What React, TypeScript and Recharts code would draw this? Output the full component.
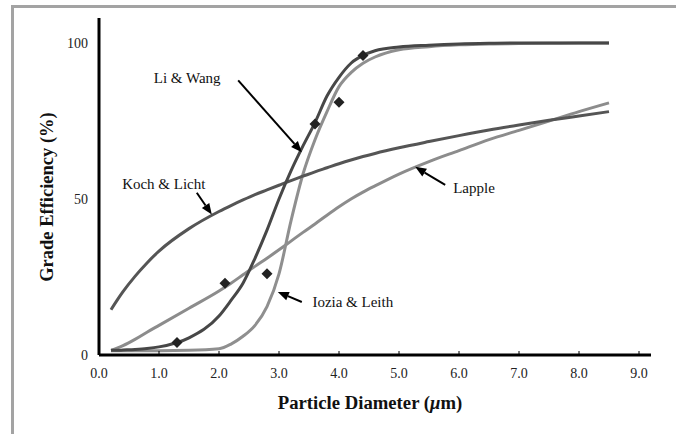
import React from "react";
import { ComposedChart, Line, Scatter, XAxis, YAxis, ReferenceLine, ReferenceDot } from "recharts";

// particle diameter (µm) shared by the four model curves
const diameters = [0.2, 0.3, 0.4, 0.6, 0.8, 1.0, 1.5, 2.0, 2.2, 2.4, 2.6, 2.8, 3.0, 3.2, 3.4, 3.6, 3.8, 4.0, 4.2, 4.4, 4.6, 5.0, 5.5, 6.0, 6.5, 7.0, 7.5, 8.0, 8.5];

const liWang = [1.5, 1.5, 1.6, 1.8, 2.1, 2.6, 5.5, 12.5, 17.5, 23, 31, 40, 50, 59, 67, 74.5, 83, 89, 93.5, 96, 97.5, 98.7, 99.3, 99.7, 99.9, 100, 100, 100, 100];
const ioziaLeith = [1.4, 1.4, 1.4, 1.4, 1.4, 1.4, 1.5, 2, 3.5, 6, 9.5, 15.5, 26, 43, 58, 69, 78, 86, 90.5, 93.5, 95.5, 97.8, 98.8, 99.4, 99.7, 99.8, 99.9, 100, 100];
const kochLicht = [14.5, 17.5, 20.3, 25.2, 29.5, 33.3, 40.5, 46, 47.9, 49.7, 51.4, 52.9, 54.4, 55.9, 57.3, 58.7, 60, 61.3, 62.5, 63.6, 64.6, 66.4, 68.4, 70.3, 72.1, 73.7, 75.2, 76.6, 78];
const lapple = [1.5, 2.2, 3, 5, 7.3, 9.5, 15, 20.5, 23, 25.7, 28.4, 31, 33.7, 36.5, 39.3, 42, 44.8, 47.5, 50, 52.2, 54.2, 58, 62, 65.5, 69, 72, 75, 78, 80.8];

// measured points
const measuredDiameter = [1.3, 2.1, 2.8, 3.6, 4.0, 4.4];
const measuredEfficiency = [4, 23, 26, 74, 81, 96];

const xTicks = [0, 1, 2, 3, 4, 5, 6, 7, 8, 9];
const yTicks = [0, 50, 100];

// callouts: label centre and arrow (tail -> head) in chart units
const noteText = ["Li & Wang", "Koch & Licht", "Lapple", "Iozia & Leith"];
const noteAt = [[1.47, 89], [1.08, 55], [6.25, 53.5], [4.23, 17]];
const arrowFrom = [[2.32, 88], [1.63, 52], [5.77, 54.5], [3.38, 17]];
const arrowTo = [[3.38, 65], [1.88, 45], [5.27, 60.3], [2.98, 20.2]];

const rows = diameters.map((d, i) => ({
  d,
  liWang: liWang[i],
  ioziaLeith: ioziaLeith[i],
  kochLicht: kochLicht[i],
  lapple: lapple[i],
}));
const measured = measuredDiameter.map((d, i) => ({ d, eff: measuredEfficiency[i] }));

const serif = "'Liberation Serif', 'Times New Roman', serif";

function Arrow(props: any) {
  const { x1, y1, x2, y2 } = props;
  const ang = Math.atan2(y2 - y1, x2 - x1);
  const len = 11;
  const half = 4.5;
  const bx = x2 - len * Math.cos(ang);
  const by = y2 - len * Math.sin(ang);
  const px = -Math.sin(ang) * half;
  const py = Math.cos(ang) * half;
  return (
    <g>
      <line x1={x1} y1={y1} x2={bx} y2={by} stroke="#000" strokeWidth={2} />
      <polygon points={`${x2},${y2} ${bx + px},${by + py} ${bx - px},${by - py}`} fill="#000" />
    </g>
  );
}

function Diamond(props: any) {
  const { cx, cy } = props;
  const r = 5.5;
  return <polygon points={`${cx},${cy - r} ${cx + r},${cy} ${cx},${cy + r} ${cx - r},${cy}`} fill="#222" />;
}

function XTick(props: any) {
  const { x, y, payload } = props;
  return (
    <g>
      <line x1={x} y1={y - 13} x2={x} y2={y - 17} stroke="#000" strokeWidth={1} />
      <text x={x} y={y + 10} textAnchor="middle" fontFamily={serif} fontSize={14} fill="#222">
        {payload.value.toFixed(1)}
      </text>
    </g>
  );
}

export default function App() {
  return (
    <div style={{ position: "absolute", left: 0, top: 0, width: 676, height: 434, overflow: "hidden", background: "#fff" }}>
      <div
        style={{
          position: "absolute",
          left: 11,
          top: 5,
          width: 720,
          height: 480,
          borderTop: "3px solid #a3a3a3",
          borderLeft: "3px solid #a3a3a3",
        }}
      />
      <div style={{ position: "absolute", left: 0, top: 0 }}>
        <ComposedChart width={676} height={434} data={rows} margin={{ top: 18, right: 25, bottom: 49, left: 54 }}>
          <XAxis
            dataKey="d"
            type="number"
            domain={[0, 9.2]}
            ticks={xTicks}
            interval={0}
            axisLine={{ stroke: "#000", strokeWidth: 3 }}
            tickLine={false}
            tickSize={0}
            tickMargin={13}
            tick={<XTick />}
            height={30}
            label={{
              position: "bottom",
              content: () => (
                <text x={370} y={409} textAnchor="middle" fontFamily={serif} fontSize={18.7} fontWeight="bold" fill="#111">
                  Particle Diameter (<tspan fontStyle="italic">μ</tspan>m)
                </text>
              ),
            }}
          />
          <YAxis
            type="number"
            domain={[0, 108]}
            ticks={yTicks}
            width={45}
            axisLine={{ stroke: "#000", strokeWidth: 3 }}
            tickLine={false}
            tickSize={0}
            tickMargin={11}
            tick={{ fontFamily: serif, fontSize: 14, fill: "#222" }}
            label={{
              position: "left",
              content: () => (
                <text
                  transform="translate(53,197) rotate(-90)"
                  textAnchor="middle"
                  fontFamily={serif}
                  fontSize={18.5}
                  fontWeight="bold"
                  fill="#111"
                >
                  Grade Efficiency (%)
                </text>
              ),
            }}
          />
          <Line type="monotone" dataKey="lapple" stroke="#8c8c8c" strokeWidth={3} dot={false} isAnimationActive={false} />
          <Line type="monotone" dataKey="ioziaLeith" stroke="#8f8f8f" strokeWidth={3} dot={false} isAnimationActive={false} />
          <Line type="monotone" dataKey="kochLicht" stroke="#555555" strokeWidth={3} dot={false} isAnimationActive={false} />
          <Line type="monotone" dataKey="liWang" stroke="#474747" strokeWidth={3} dot={false} isAnimationActive={false} />
          <Scatter data={measured} dataKey="eff" shape={<Diamond />} isAnimationActive={false} />
          {noteText.map((t, i) => (
            <ReferenceLine
              key={"a" + i}
              segment={[
                { x: arrowFrom[i][0], y: arrowFrom[i][1] },
                { x: arrowTo[i][0], y: arrowTo[i][1] },
              ]}
              shape={<Arrow />}
            />
          ))}
          {noteText.map((t, i) => (
            <ReferenceDot
              key={"t" + i}
              x={noteAt[i][0]}
              y={noteAt[i][1]}
              r={0}
              shape={(p: any) => (
                <text x={p.cx} y={p.cy} dy="0.35em" textAnchor="middle" fontFamily={serif} fontSize={15} fill="#111">
                  {t}
                </text>
              )}
            />
          ))}
        </ComposedChart>
      </div>
    </div>
  );
}
